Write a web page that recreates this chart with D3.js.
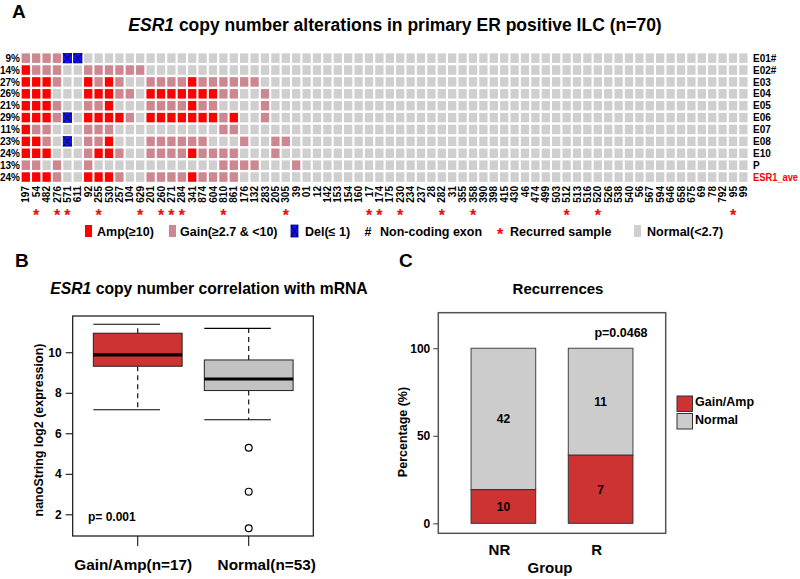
<!DOCTYPE html>
<html><head><meta charset="utf-8">
<script src="https://cdn.jsdelivr.net/npm/d3@7"></script>
<style>
body{margin:0;background:#fff}
svg{display:block;font-family:"Liberation Sans",Arial,Helvetica,sans-serif;font-weight:bold}
</style>
</head><body>
<svg id="c" width="800" height="579"></svg>
<script>
// ---------------- DATA ----------------
const samples = ["197","54","482","276","571","611","92","255","530","257","104","629","201","260","271","284","341","874","604","810","861","176","132","283","205","305","39","01","12","142","153","154","160","17","174","175","230","234","237","28","282","31","355","358","390","398","415","430","46","474","499","503","512","513","516","520","526","538","540","56","567","594","646","658","675","69","78","792","95","99"];
const exons = ["E01#","E02#","E03","E04","E05","E06","E07","E08","E10","P","ESR1_ave"];
const exonPct = ["9%","14%","27%","26%","21%","29%","11%","23%","24%","13%","24%"];
// A = Amp, G = Gain, D = Del, N = Normal ; one row per exon, one char per sample (groups of 10)
const cnvRows = [
  "GGGGDDNNNN NNNNNNNNNN NNNNNNNNNN NNNNNNNNNN NNNNNNNNNN NNNNNNNNNN NNNNNNNNNN",
  "AGGGNNGGGG GGNNNNNNNN NNNNNNNNNN NNNNNNNNNN NNNNNNNNNN NNNNNNNNNN NNNNNNNNNN",
  "AAAGNNAGAG NNGGGGAGGG GGGNNNNNNN NNNNNNNNNN NNNNNNNNNN NNNNNNNNNN NNNNNNNNNN",
  "AAANNNAAAG GNAAAAAAAG GNNGNNNNNN NNNNNNNNNN NNNNNNNNNN NNNNNNNNNN NNNNNNNNNN",
  "AAAGNNGGAN NNGGGGAGGN NNNGNNNNNN NNNNNNNNNN NNNNNNNNNN NNNNNNNNNN NNNNNNNNNN",
  "AAAGDNAAAA GNAAAAAAAG ANNGNNNNNN NNNNNNNNNN NNNNNNNNNN NNNNNNNNNN NNNNNNNNNN",
  "AGGNNNGGGN NNNNNNNNNG GNNNNNNNNN NNNNNNNNNN NNNNNNNNNN NNNNNNNNNN NNNNNNNNNN",
  "AAGNDNGGAN NNGGGGGGNN NGNNGGNNNN NNNNNNNNNN NNNNNNNNNN NNNNNNNNNN NNNNNNNNNN",
  "AAANNNGAAG NNGGGGAGGG GNNNGNNNNN NNNNNNNNNN NNNNNNNNNN NNNNNNNNNN NNNNNNNNNN",
  "GGNGNNGNNN NNNNNNNNNG GGGNNNGNNN NNNNNNNNNN NNNNNNNNNN NNNNNNNNNN NNNNNNNNNN",
  "AAAGNNAAAG NNGGGGAGGG GNNNNNNNNN NNNNNNNNNN NNNNNNNNNN NNNNNNNNNN NNNNNNNNNN"
];
const recurred = ["54","276","571","255","629","260","271","284","810","305","17","174","230","282","358","512","520","95"];
const cnvCodes = ["A","G","D","N"];
const cnvLegend = ["Amp(≥10)","Gain(≥2.7 & <10)","Del(≤ 1)","Non-coding exon","Recurred sample","Normal(<2.7)"];

// Panel B: boxplot stats
const boxGroups = ["Gain/Amp(n=17)","Normal(n=53)"];
const boxLow = [7.16, 6.67];
const boxQ1 = [9.31, 8.11];
const boxMed = [9.87, 8.68];
const boxQ3 = [10.94, 9.62];
const boxHigh = [11.38, 11.18];
const boxOutliers = [[], [5.29, 3.12, 1.31]];
const boxTicks = [2,4,6,8,10];

// Panel C: stacked bars
const recGroups = ["NR","R"];
const recGainAmp = [10, 7];
const recNormal = [42, 11];
const recTicks = [0,50,100];

// ---------------- DRAW ----------------
const svg = d3.select("#c");
const RED = "#ff0000", PINK = "#cc8790", BLUE = "#1010ff", GREY = "#cfcfcf";
const color = d3.scaleOrdinal().domain(cnvCodes).range([RED, PINK, BLUE, GREY]);

// ---- Panel A ----
svg.append("text").attr("x",12).attr("y",18).attr("font-size",19).text("A");
const tA = svg.append("text").attr("x",395).attr("y",31).attr("text-anchor","middle").attr("font-size",17.5);
tA.append("tspan").attr("font-style","italic").text("ESR1");
tA.append("tspan").text(" copy number alterations in primary ER positive ILC (n=70)");

const xA = d3.scaleBand().domain(samples).range([20.6,748.6]).paddingInner(0.2).paddingOuter(0.1);
const yA = d3.scaleBand().domain(exons).range([52.2,183]).paddingInner(0.2).paddingOuter(0.1);

const cells = [];
exons.forEach((e,i)=>{
  const codes = cnvRows[i].replace(/ /g,"");
  samples.forEach((s,j)=>cells.push({e, s, c: codes[j]}));
});
const gA = svg.append("g");
gA.selectAll("rect").data(cells).join("rect")
  .attr("x",d=>xA(d.s)).attr("y",d=>yA(d.e))
  .attr("width",xA.bandwidth()).attr("height",yA.bandwidth())
  .attr("fill",d=>color(d.c))
  .attr("stroke",d=>d.c==="D"?"#000080":"none").attr("stroke-width",0.8);
const dels = cells.filter(d=>d.c==="D");
gA.selectAll("path.x").data(dels).join("path").attr("class","x")
  .attr("d",d=>{const x0=xA(d.s),y0=yA(d.e),w=xA.bandwidth(),h=yA.bandwidth();
    return `M${x0},${y0}L${x0+w},${y0+h}M${x0+w},${y0}L${x0},${y0+h}`;})
  .attr("stroke","#000033").attr("stroke-width",0.9).attr("fill","none");

// row labels
svg.append("g").selectAll("text").data(exons).join("text")
  .attr("x",753).attr("y",d=>yA(d)+yA.bandwidth()/2).attr("dy","0.36em")
  .attr("font-size",10).attr("fill",d=>d==="ESR1_ave"?"#ff0000":"#000")
  .each(function(d){ if(d==="ESR1_ave") d3.select(this).attr("textLength",45).attr("lengthAdjust","spacingAndGlyphs"); })
  .text(d=>d);
svg.append("g").selectAll("text").data(exons).join("text")
  .attr("x",20).attr("text-anchor","end").attr("y",(d)=>yA(d)+yA.bandwidth()/2).attr("dy","0.36em")
  .attr("font-size",10).text((d,i)=>exonPct[i]);
// column labels
svg.append("g").selectAll("text").data(samples).join("text")
  .attr("transform",d=>`translate(${xA(d)+xA.bandwidth()/2},186) rotate(-90)`)
  .attr("text-anchor","end").attr("dy","0.36em").attr("font-size",10).text(d=>d);
// recurrence stars
svg.append("g").selectAll("text").data(recurred).join("text")
  .attr("x",d=>xA(d)+xA.bandwidth()/2).attr("y",221).attr("text-anchor","middle")
  .attr("font-size",16).attr("fill","#ff0000").text("*");

// legend A
const legY = 231;
const lg = svg.append("g");
lg.append("rect").attr("x",85).attr("y",legY-6).attr("width",7).attr("height",12).attr("fill",RED);
lg.append("text").attr("x",97).attr("y",legY).attr("dy","0.36em").attr("font-size",12.5).text(cnvLegend[0]);
lg.append("rect").attr("x",169).attr("y",legY-6).attr("width",7).attr("height",12).attr("fill",PINK);
lg.append("text").attr("x",180).attr("y",legY).attr("dy","0.36em").attr("font-size",12.5).text(cnvLegend[1]);
lg.append("rect").attr("x",291).attr("y",legY-6).attr("width",7).attr("height",12).attr("fill",BLUE).attr("stroke","#000080").attr("stroke-width",0.8);
lg.append("path").attr("d",`M291,${legY-6}L298,${legY+6}M298,${legY-6}L291,${legY+6}`).attr("stroke","#000033").attr("stroke-width",0.9);
lg.append("text").attr("x",305).attr("y",legY).attr("dy","0.36em").attr("font-size",12.5).text(cnvLegend[2]);
lg.append("text").attr("x",368).attr("y",legY).attr("dy","0.36em").attr("text-anchor","middle").attr("font-size",12.5).text("#");
lg.append("text").attr("x",380).attr("y",legY).attr("dy","0.36em").attr("font-size",12.5).text(cnvLegend[3]);
lg.append("text").attr("x",500).attr("y",legY+9).attr("text-anchor","middle").attr("font-size",16).attr("fill","#ff0000").text("*");
lg.append("text").attr("x",510).attr("y",legY).attr("dy","0.36em").attr("font-size",12.5).text(cnvLegend[4]);
lg.append("rect").attr("x",634).attr("y",legY-6).attr("width",7).attr("height",12).attr("fill",GREY);
lg.append("text").attr("x",647).attr("y",legY).attr("dy","0.36em").attr("font-size",12.5).text(cnvLegend[5]);

// ---- Panel B ----
svg.append("text").attr("x",15).attr("y",267).attr("font-size",19).text("B");
const tB = svg.append("text").attr("x",209).attr("y",294).attr("text-anchor","middle").attr("font-size",15.7);
tB.append("tspan").attr("font-style","italic").text("ESR1");
tB.append("tspan").text(" copy number correlation with mRNA");

const fB = {l:72.7, r:313.3, t:316, b:536};
const yB = d3.scaleLinear().domain([0.93, 11.79]).range([fB.b, fB.t]);
const xB = d3.scaleLinear().domain([0.414, 2.582]).range([fB.l, fB.r]);
const bwB = 0.4;
const gB = svg.append("g");
gB.append("g").attr("transform",`translate(${fB.l},0)`)
  .call(d3.axisLeft(yB).tickValues(boxTicks).tickSize(7).tickPadding(4))
  .call(g=>{g.select(".domain").remove(); g.selectAll("text").attr("font-size",12).attr("font-family",null).attr("font-weight","bold").attr("fill","#000");
    g.selectAll("line").attr("stroke","#000");});
const boxes = boxGroups.map((g,i)=>({g, i, pos:i+1, lo:boxLow[i], q1:boxQ1[i], med:boxMed[i], q3:boxQ3[i], hi:boxHigh[i], out:boxOutliers[i], fill: i===0?"#cd3333":"#c2c2c2"}));
const bg = gB.selectAll("g.box").data(boxes).join("g").attr("class","box");
// whiskers
bg.append("line").attr("x1",d=>xB(d.pos)).attr("x2",d=>xB(d.pos)).attr("y1",d=>yB(d.q3)).attr("y2",d=>yB(d.hi))
  .attr("stroke","#000").attr("stroke-width",1.1).attr("stroke-dasharray","5,4");
bg.append("line").attr("x1",d=>xB(d.pos)).attr("x2",d=>xB(d.pos)).attr("y1",d=>yB(d.q1)).attr("y2",d=>yB(d.lo))
  .attr("stroke","#000").attr("stroke-width",1.1).attr("stroke-dasharray","5,4");
// caps
["hi","lo"].forEach(k=>{
  bg.append("line").attr("x1",d=>xB(d.pos-bwB)).attr("x2",d=>xB(d.pos+bwB/2)).attr("y1",d=>yB(d[k])).attr("y2",d=>yB(d[k]))
    .attr("stroke","#000").attr("stroke-width",1.1);
});
bg.append("rect").attr("x",d=>xB(d.pos-bwB)).attr("width",d=>xB(d.pos+bwB)-xB(d.pos-bwB))
  .attr("y",d=>yB(d.q3)).attr("height",d=>yB(d.q1)-yB(d.q3))
  .attr("fill",d=>d.fill).attr("stroke","#222").attr("stroke-width",1);
bg.append("line").attr("x1",d=>xB(d.pos-bwB)).attr("x2",d=>xB(d.pos+bwB)).attr("y1",d=>yB(d.med)).attr("y2",d=>yB(d.med))
  .attr("stroke","#000").attr("stroke-width",3.2);
bg.selectAll("circle").data(d=>d.out.map(v=>({v,pos:d.pos}))).join("circle")
  .attr("cx",d=>xB(d.pos)).attr("cy",d=>yB(d.v)).attr("r",3.4).attr("fill","none").attr("stroke","#000").attr("stroke-width",1.2);
// frame
gB.append("rect").attr("x",fB.l).attr("y",fB.t).attr("width",fB.r-fB.l).attr("height",fB.b-fB.t)
  .attr("fill","none").attr("stroke","#111").attr("stroke-width",1.2);
// x ticks & labels
gB.selectAll("line.xt").data(boxes).join("line").attr("class","xt")
  .attr("x1",d=>xB(d.pos)).attr("x2",d=>xB(d.pos)).attr("y1",fB.b).attr("y2",fB.b+10).attr("stroke","#000");
const xLabOff = [-4.5, 18];
gB.selectAll("text.xl").data(boxes).join("text").attr("class","xl")
  .attr("x",d=>xB(d.pos)+xLabOff[d.i]).attr("y",570).attr("text-anchor","middle").attr("font-size",15.3).text(d=>d.g);
gB.append("text").attr("transform","translate(43,430) rotate(-90)").attr("text-anchor","middle").attr("font-size",12.5)
  .text("nanoString log2 (expression)");
gB.append("text").attr("x",88).attr("y",521).attr("font-size",12).text("p= 0.001");

// ---- Panel C ----
svg.append("text").attr("x",399).attr("y",267).attr("font-size",19).text("C");
svg.append("text").attr("x",558).attr("y",294).attr("text-anchor","middle").attr("font-size",15).text("Recurrences");
const fC = {l:438.3, r:665.7, t:312.7, b:533.3};
const yC = d3.scaleLinear().domain([-5.7, 120.3]).range([fC.b, fC.t]);
const xC = d3.scaleBand().domain(recGroups).range([fC.l, fC.r]).paddingInner(0.335).paddingOuter(0.337);
const gC = svg.append("g");
gC.append("g").attr("transform",`translate(${fC.l},0)`)
  .call(d3.axisLeft(yC).tickValues(recTicks).tickSize(5).tickPadding(3))
  .call(g=>{g.select(".domain").remove(); g.selectAll("text").attr("font-size",12).attr("font-family",null).attr("font-weight","bold").attr("fill","#000");
    g.selectAll("line").attr("stroke","#333");});
const recData = recGroups.map((g,i)=>{const tot=recGainAmp[i]+recNormal[i]; return {g, ga:recGainAmp[i], no:recNormal[i], pGa:recGainAmp[i]/tot*100};});
const bars = gC.selectAll("g.bar").data(recData).join("g").attr("class","bar");
bars.append("rect").attr("x",d=>xC(d.g)).attr("width",xC.bandwidth()).attr("y",d=>yC(100)).attr("height",d=>yC(d.pGa)-yC(100))
  .attr("fill","#cccccc").attr("stroke","#444").attr("stroke-width",1);
bars.append("rect").attr("x",d=>xC(d.g)).attr("width",xC.bandwidth()).attr("y",d=>yC(d.pGa)).attr("height",d=>yC(0)-yC(d.pGa))
  .attr("fill","#cd3333").attr("stroke","#333").attr("stroke-width",1);
bars.append("text").attr("x",d=>xC(d.g)+xC.bandwidth()/2).attr("y",d=>(yC(d.pGa)+yC(100))/2).attr("dy","0.36em")
  .attr("text-anchor","middle").attr("font-size",12).text(d=>d.no);
bars.append("text").attr("x",d=>xC(d.g)+xC.bandwidth()/2).attr("y",d=>(yC(d.pGa)+yC(0))/2).attr("dy","0.36em")
  .attr("text-anchor","middle").attr("font-size",12).text(d=>d.ga);
gC.append("rect").attr("x",fC.l).attr("y",fC.t).attr("width",fC.r-fC.l).attr("height",fC.b-fC.t)
  .attr("fill","none").attr("stroke","#555").attr("stroke-width",1.5);
gC.selectAll("text.xl").data(recGroups).join("text").attr("class","xl")
  .attr("x",d=>xC(d)+xC.bandwidth()/2-4).attr("y",555).attr("text-anchor","middle").attr("font-size",15).text(d=>d);
gC.append("text").attr("x",550).attr("y",573).attr("text-anchor","middle").attr("font-size",15).text("Group");
gC.append("text").attr("transform","translate(407,432) rotate(-90)").attr("text-anchor","middle").attr("font-size",12.5).text("Percentage (%)");
gC.append("text").attr("x",621).attr("y",337).attr("text-anchor","middle").attr("font-size",12.5).text("p=0.0468");
// legend C
gC.append("rect").attr("x",677).attr("y",396).attr("width",15.5).attr("height",15.5).attr("fill","#cd3333").attr("stroke","#333").attr("stroke-width",1);
gC.append("rect").attr("x",677).attr("y",413.5).attr("width",15.5).attr("height",15.5).attr("fill","#cccccc").attr("stroke","#333").attr("stroke-width",1);
gC.append("text").attr("x",695).attr("y",406).attr("font-size",12.5).text("Gain/Amp");
gC.append("text").attr("x",695).attr("y",424).attr("font-size",12.5).text("Normal");
</script>
</body></html>
